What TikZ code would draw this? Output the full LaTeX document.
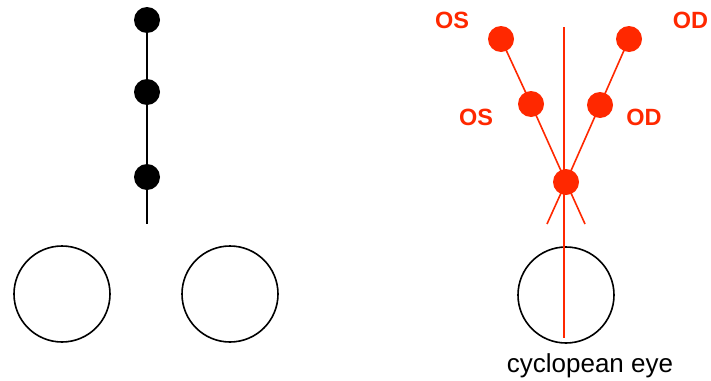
\documentclass[tikz,border=0pt]{standalone}
\usepackage{fontspec}
\setmainfont{Liberation Sans}
\begin{document}
\definecolor{ored}{RGB}{255,40,0}
\begin{tikzpicture}[x=1pt,y=-1pt,
  bdot/.style={circle,fill=black,inner sep=0pt,minimum size=26pt},
  rdot/.style={circle,fill=ored,inner sep=0pt,minimum size=26pt},
  eye/.style={circle,draw=black,line width=1.6pt,inner sep=0pt,minimum size=96pt},
  blk/.style={line width=1.6pt,black},
  rln/.style={line width=1.6pt,ored},
  lab/.style={text=ored,font=\bfseries\fontsize{23.5}{25}\selectfont,inner sep=0pt,anchor=base}]
\useasboundingbox (0,0) rectangle (711,380);
% left
\coordinate (lbot) at (147,224);
\node[bdot] (b1) at (147,20) {};
\node[bdot] (b2) at (147,92) {};
\node[bdot] (b3) at (147,177) {};
\draw[blk] (b1.center) -- (b2.center) -- (b3.center) -- (lbot);
\node[eye] (le) at (62,294) {};
\node[eye] (re) at (230,294) {};
% right
\node[eye] (ce) at (566,295) {};
\coordinate (vtop) at (564,27);
\coordinate (vbot) at (564,338);
\draw[rln] (vtop) -- (vbot);
\node[rdot] (os1) at (501,39) {};
\node[rdot] (od1) at (629,39) {};
\node[rdot] (os2) at (531,104) {};
\node[rdot] (od2) at (600,105) {};
\node[rdot] (fx) at (566,182) {};
\coordinate (osend) at (585,224);
\coordinate (odend) at (547,224);
\draw[rln] (os1.center) -- (os2.center) -- (fx.center) -- (osend);
\draw[rln] (od1.center) -- (od2.center) -- (fx.center) -- (odend);
\node[lab] (tos1) at (452,28) {OS};
\node[lab] (tod1) at (690.5,28) {OD};
\node[lab] (tos2) at (476,125) {OS};
\node[lab] (tod2) at (644,125) {OD};
\node[inner sep=0pt,anchor=base,font=\fontsize{26}{28}\selectfont] (cap) at (590,372) {cyclopean eye};
\end{tikzpicture}
\end{document}
